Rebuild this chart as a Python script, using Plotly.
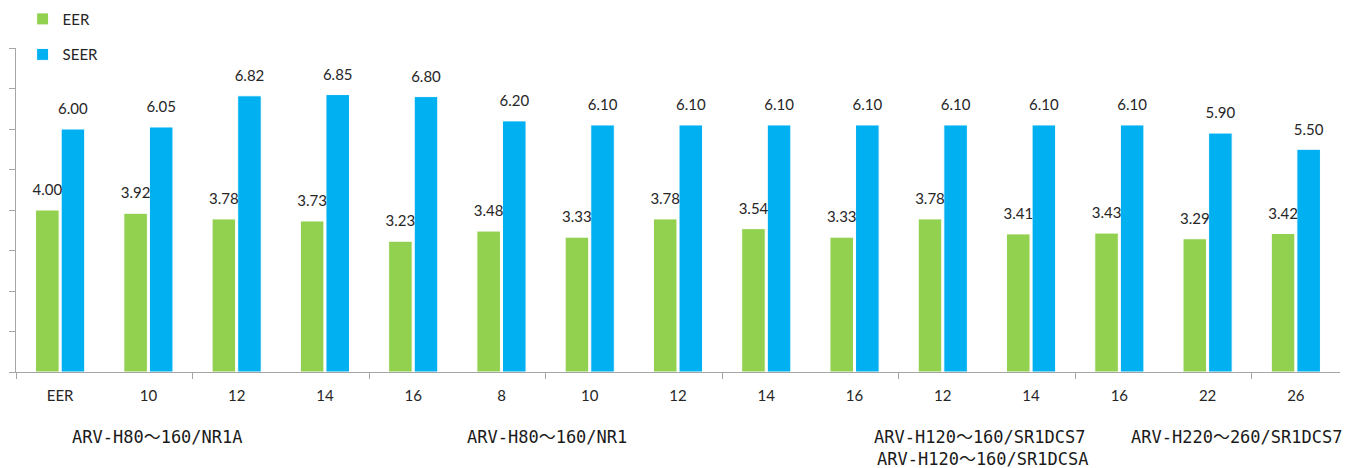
import plotly.graph_objects as go

categories = ["EER", "10", "12", "14", "16", "8", "10", "12", "14", "16", "12", "14", "16", "22", "26"]
eer = [4.00, 3.92, 3.78, 3.73, 3.23, 3.48, 3.33, 3.78, 3.54, 3.33, 3.78, 3.41, 3.43, 3.29, 3.42]
seer = [6.00, 6.05, 6.82, 6.85, 6.80, 6.20, 6.10, 6.10, 6.10, 6.10, 6.10, 6.10, 6.10, 5.90, 5.50]
group_labels = ["ARV-H80～160/NR1A", "ARV-H80～160/NR1",
                "ARV-H120～160/SR1DCS7", "ARV-H120～160/SR1DCSA", "ARV-H220～260/SR1DCS7"]
# placement of each group label (x and y in paper units, anchor)
group_place = [(0.1066, -0.2006, "center"), (0.4012, -0.2006, "center"),
               (0.7275, -0.2006, "center"), (0.7298, -0.268, "center"), (1.003, -0.2006, "right")]

x = list(range(len(categories)))
num_font = dict(family="Lato, Open Sans, sans-serif", size=15, color="#262626")
green, blue = "#92D050", "#00B0F0"

fig = go.Figure()
for name, vals, col in [("EER", eer, green), ("SEER", seer, blue)]:
    fig.add_trace(go.Bar(x=x, y=vals, name=name, marker=dict(color=col, line=dict(color="white", width=1)),
                         offsetgroup=name, legendgroup=name))
for name, vals in [("EER", eer), ("SEER", seer)]:
    fig.add_trace(go.Scatter(x=x, y=vals, mode="markers+text", text=[f"{v:.2f}" for v in vals],
                             textposition="top center", textfont=num_font, offsetgroup=name,
                             marker=dict(size=16, opacity=0), cliponaxis=False,
                             showlegend=False, hoverinfo="skip"))

gray = "#A6A6A6"
fig.update_layout(
    width=1347, height=460,
    margin=dict(l=8, r=15, t=40, b=96, autoexpand=False),
    paper_bgcolor="white", plot_bgcolor="white",
    barmode="group", bargap=0.42, bargroupgap=0.08,
    scattermode="group", scattergap=0.42,
    showlegend=True,
    legend=dict(x=0.005, y=1.14, xanchor="left", yanchor="top", orientation="v",
                font=dict(family="Lato, Open Sans, sans-serif", size=15, color="#262626"),
                tracegroupgap=13, itemwidth=30, bgcolor="rgba(0,0,0,0)"),
    xaxis=dict(range=[-0.5, 14.5], tickmode="array", tickvals=x, ticktext=categories,
               ticks="", showline=True, linecolor=gray, linewidth=1, showgrid=False, zeroline=False,
               tickfont=dict(family="Lato, Open Sans, sans-serif", size=15, color="#262626"),
               ticklabelstandoff=10, automargin=False,
               minor=dict(tickmode="linear", tick0=-0.5, dtick=2, ticks="outside", ticklen=6,
                          tickcolor=gray, showgrid=False)),
    yaxis=dict(range=[0, 8], dtick=1, tick0=0, showticklabels=False, ticks="outside", ticklen=6,
               tickcolor=gray, showline=True, linecolor=gray, linewidth=1, showgrid=False, zeroline=False,
               automargin=False),
)

for lbl, (px, py, anc) in zip(group_labels, group_place):
    fig.add_annotation(x=px, y=py, xref="paper", yref="paper", text=lbl, showarrow=False,
                       xanchor=anc, yanchor="middle", align="center",
                       font=dict(family="DejaVu Sans Mono, Noto Sans CJK SC, monospace", size=17, color="#1a1a1a"))

fig.write_html("out.html")
